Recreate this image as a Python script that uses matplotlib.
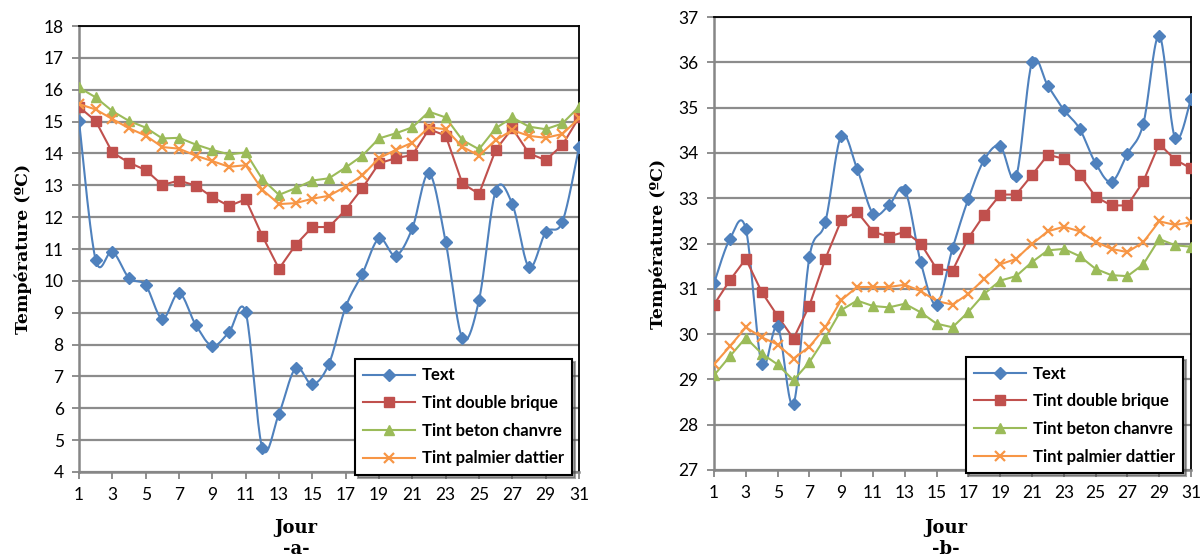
import matplotlib
matplotlib.use('Agg')
import matplotlib.pyplot as plt
import numpy as np

days = np.arange(1, 32)

# panel a
a_text = [15.02, 10.66, 10.92, 10.09, 9.86, 8.81, 9.62, 8.62, 7.96, 8.39, 9.01, 4.75, 5.83, 7.26, 6.75,
          7.40, 9.18, 10.22, 11.33, 10.79, 11.65, 13.38, 11.22, 8.21, 9.39, 12.82, 12.41, 10.43, 11.52, 11.85, 14.19]
a_brique = [15.46, 15.02, 14.03, 13.71, 13.48, 13.01, 13.15, 12.99, 12.63, 12.35, 12.56, 11.41, 10.38, 11.13, 11.69,
            11.69, 12.23, 12.91, 13.69, 13.85, 13.95, 14.76, 14.56, 13.06, 12.73, 14.11, 14.79, 14.00, 13.79, 14.26, 15.13]
a_chanvre = [16.07, 15.76, 15.33, 15.02, 14.81, 14.47, 14.49, 14.28, 14.11, 13.97, 14.03, 13.19, 12.70, 12.91, 13.15,
             13.22, 13.56, 13.93, 14.47, 14.63, 14.82, 15.31, 15.13, 14.42, 14.13, 14.79, 15.13, 14.84, 14.76, 14.94, 15.46]
a_dattier = [15.55, 15.38, 15.08, 14.79, 14.56, 14.20, 14.15, 13.93, 13.76, 13.58, 13.63, 12.86, 12.41, 12.44, 12.58,
             12.67, 12.96, 13.31, 13.85, 14.11, 14.34, 14.82, 14.76, 14.21, 13.93, 14.42, 14.73, 14.55, 14.49, 14.61, 15.10]

# panel b
b_text = [31.12, 32.10, 32.32, 29.35, 30.17, 28.46, 31.70, 32.47, 34.38, 33.65, 32.66, 32.84, 33.19, 31.59, 30.65,
          31.89, 32.99, 33.85, 34.15, 33.48, 36.00, 35.48, 34.95, 34.53, 33.77, 33.36, 33.98, 34.64, 36.59, 34.33, 35.19]
b_brique = [30.65, 31.19, 31.66, 30.93, 30.40, 29.90, 30.63, 31.66, 32.51, 32.70, 32.26, 32.15, 32.26, 32.00, 31.44,
            31.40, 32.12, 32.64, 33.08, 33.08, 33.51, 33.96, 33.87, 33.52, 33.03, 32.84, 32.84, 33.37, 34.20, 33.85, 33.66]
b_chanvre = [29.09, 29.51, 29.92, 29.57, 29.33, 28.98, 29.38, 29.92, 30.53, 30.74, 30.62, 30.59, 30.67, 30.48, 30.23,
             30.15, 30.49, 30.89, 31.18, 31.28, 31.59, 31.85, 31.88, 31.72, 31.44, 31.30, 31.28, 31.54, 32.10, 31.96, 31.93]
b_dattier = [29.33, 29.73, 30.15, 29.93, 29.77, 29.46, 29.72, 30.15, 30.75, 31.04, 31.04, 31.04, 31.09, 30.95, 30.73,
             30.65, 30.89, 31.22, 31.54, 31.66, 31.99, 32.27, 32.37, 32.27, 32.04, 31.88, 31.81, 32.03, 32.49, 32.41, 32.47]

labels = ['Text', 'Tint double brique', 'Tint beton chanvre', 'Tint palmier dattier']
colors = ['#4F81BD', '#C0504D', '#9BBB59', '#F79646']
markers = ['D', 's', '^', 'x']
msizes = [6, 7.5, 7.5, 6.5]


def smooth(x, y, n=20):
    # catmull-rom curve through the points (like excel "smoothed line")
    x = np.asarray(x, float)
    y = np.asarray(y, float)
    px = np.concatenate([[x[0]], x, [x[-1]]])
    py = np.concatenate([[y[0]], y, [y[-1]]])
    xs, ys = [], []
    t = np.linspace(0, 1, n, endpoint=False)
    for i in range(1, len(px) - 2):
        p0, p1, p2, p3 = (np.array([px[j], py[j]]) for j in (i - 1, i, i + 1, i + 2))
        t2, t3 = t * t, t * t * t
        pts = 0.5 * ((2 * p1)[:, None] + (-p0 + p2)[:, None] * t
                     + (2 * p0 - 5 * p1 + 4 * p2 - p3)[:, None] * t2
                     + (-p0 + 3 * p1 - 3 * p2 + p3)[:, None] * t3)
        xs.extend(pts[0])
        ys.extend(pts[1])
    xs.append(x[-1])
    ys.append(y[-1])
    return xs, ys


fig = plt.figure(figsize=(12.01, 5.6), dpi=100)
ax1 = fig.add_axes([79 / 1201, 1 - 472 / 560, 500 / 1201, 446 / 560])
ax2 = fig.add_axes([714 / 1201, 1 - 470 / 560, 477 / 1201, 453 / 560])

panels = [
    (ax1, [a_text, a_brique, a_chanvre, a_dattier], (4, 18), (0.552, 0.253)),
    (ax2, [b_text, b_brique, b_chanvre, b_dattier], (27, 37), (0.528, 0.249)),
]

for ax, series, ylim, legpos in panels:
    for i, vals in enumerate(series):
        if i == 0:
            sx, sy = smooth(days, vals)
            ax.plot(sx, sy, color=colors[i], lw=1.5, zorder=3)
            ax.plot(days, vals, ls='none', marker=markers[i], ms=msizes[i], color=colors[i], zorder=4)
            ax.plot([], [], color=colors[i], lw=1.5, marker=markers[i], ms=msizes[i], label=labels[i])
        else:
            ax.plot(days, vals, color=colors[i], lw=1.5, marker=markers[i], ms=msizes[i],
                    mew=1.6 if markers[i] == 'x' else 1, label=labels[i], zorder=3)
    ax.set_xlim(1, 31)
    ax.set_ylim(*ylim)
    ax.set_xticks(np.arange(1, 32, 2))
    ax.set_yticks(np.arange(ylim[0], ylim[1] + 1, 1))
    ax.grid(axis='y', color='#8c8c8c', lw=1.6)
    ax.set_axisbelow(True)
    for s in ['top', 'right']:
        ax.spines[s].set_color('black')
        ax.spines[s].set_linewidth(1.3)
    for s in ['left', 'bottom']:
        ax.spines[s].set_color('#868686')
        ax.spines[s].set_linewidth(1.8)
    ax.tick_params(direction='out', length=5, width=1.3, color='#868686',
                   labelsize=12.5, labelcolor='black', pad=6)
    for lab in ax.get_xticklabels() + ax.get_yticklabels():
        lab.set_family('Lato')
    ax.set_ylabel('Température (ºC)', family='DejaVu Serif', fontweight='bold', fontsize=12.5, labelpad=8)
    leg = ax.legend(loc='upper left', bbox_to_anchor=legpos, borderaxespad=0, fancybox=False,
                    shadow=True, edgecolor='black', framealpha=1, handlelength=3.1, handletextpad=0.4,
                    labelspacing=0.7, borderpad=0.5,
                    prop={'family': 'Lato', 'weight': 'bold', 'size': 12})
    leg.get_frame().set_linewidth(1.5)

fig.text(296 / 1201, 1 - 528 / 560, 'Jour', ha='center', va='center', family='DejaVu Serif',
         fontweight='bold', fontsize=13)
fig.text(296 / 1201, 1 - 549 / 560, '-a-', ha='center', va='center', family='DejaVu Serif',
         fontweight='bold', fontsize=13)
fig.text(946 / 1201, 1 - 528 / 560, 'Jour', ha='center', va='center', family='DejaVu Serif',
         fontweight='bold', fontsize=13)
fig.text(946 / 1201, 1 - 549 / 560, '-b-', ha='center', va='center', family='DejaVu Serif',
         fontweight='bold', fontsize=13)

fig.savefig('out.png', dpi=100)
